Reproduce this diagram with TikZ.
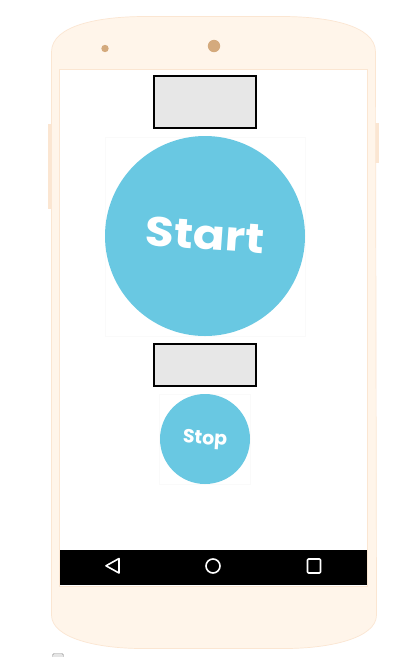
\documentclass[tikz,border=0pt]{standalone}
\usepackage{fontspec}
\setmainfont{Poppins}
\definecolor{body}{HTML}{FFF5EA}
\definecolor{edge}{HTML}{FBE6D2}
\definecolor{dotc}{HTML}{D4AA7D}
\definecolor{btn}{HTML}{69C8E2}
\definecolor{grayf}{HTML}{E7E7E7}
\definecolor{halo}{HTML}{FAFAFA}
\tikzset{
  bar/.style={fill=grayf,draw=black,line width=2pt},
  bigbtn/.style={circle,fill=btn,inner sep=0pt,text=white,font=\bfseries},
  halobox/.style={draw=halo,line width=.8pt,fill=white},
  navicon/.style={draw=white,line width=1.6pt,line join=round}
}
\begin{document}
\begin{tikzpicture}[x=1pt,y=-1pt]
\useasboundingbox (0,0) rectangle (416,657);
\fill[white] (0,0) rectangle (416,657);
% side buttons
\fill[edge] (48,124) rectangle (52,209);
\fill[edge] (375,123) rectangle (379,163);
% phone body
\draw[fill=body,draw=edge,line width=.7pt] (51.5,52)
  .. controls (51.5,25) and (100,16.5) .. (145,16.5)
  -- (282,16.5)
  .. controls (327,16.5) and (375.5,25) .. (375.5,52)
  -- (376.5,615)
  .. controls (376.5,638) and (330,648.5) .. (285,648.5)
  -- (142,648.5)
  .. controls (97,648.5) and (51.5,638) .. (51.5,615) -- cycle;
% sensors
\fill[dotc] (105,48.5) circle (3.7);
\fill[dotc] (214,46) circle (6.2);
% screen
\draw[fill=white,draw=edge,line width=.8pt] (59.5,69.5) rectangle (367.5,586);
% bars
\node[bar,minimum width=102pt,minimum height=52pt,inner sep=0pt,anchor=center] (top) at (205,102) {};
\draw[halobox] (105,137) rectangle (305.5,336.5);
\node[bigbtn,minimum size=200pt] (start) at (205,236) {};
\node[text=white,font=\fontsize{47}{47}\selectfont\bfseries,rotate=-4,yscale=.88] (startlabel) at (205,235) {Start};
\node[bar,minimum width=102pt,minimum height=42pt,inner sep=0pt] (mid) at (205,365) {};
\draw[halobox] (159.5,394) rectangle (250.5,484);
\node[bigbtn,minimum size=90pt] (stop) at (205,439) {};
\node[text=white,font=\fontsize{19}{19}\selectfont\bfseries,rotate=-4] (stoplabel) at (205,440) {Stop};
% nav bar
\fill[black] (60,550) rectangle (367,585);
\draw[navicon] (119,558.5) -- (119,573) -- (106,565.8) -- cycle;
\draw[navicon] (213,566) circle (7);
\draw[navicon,rounded corners=1pt] (307.5,559) rectangle (320.5,573);
% clipped checkbox
\begin{scope}
\clip (0,0) rectangle (416,657);
\draw[draw=gray!85,fill=gray!20,rounded corners=1.5pt] (52.5,653.5) rectangle (63.5,668);
\end{scope}
\end{tikzpicture}
\end{document}
